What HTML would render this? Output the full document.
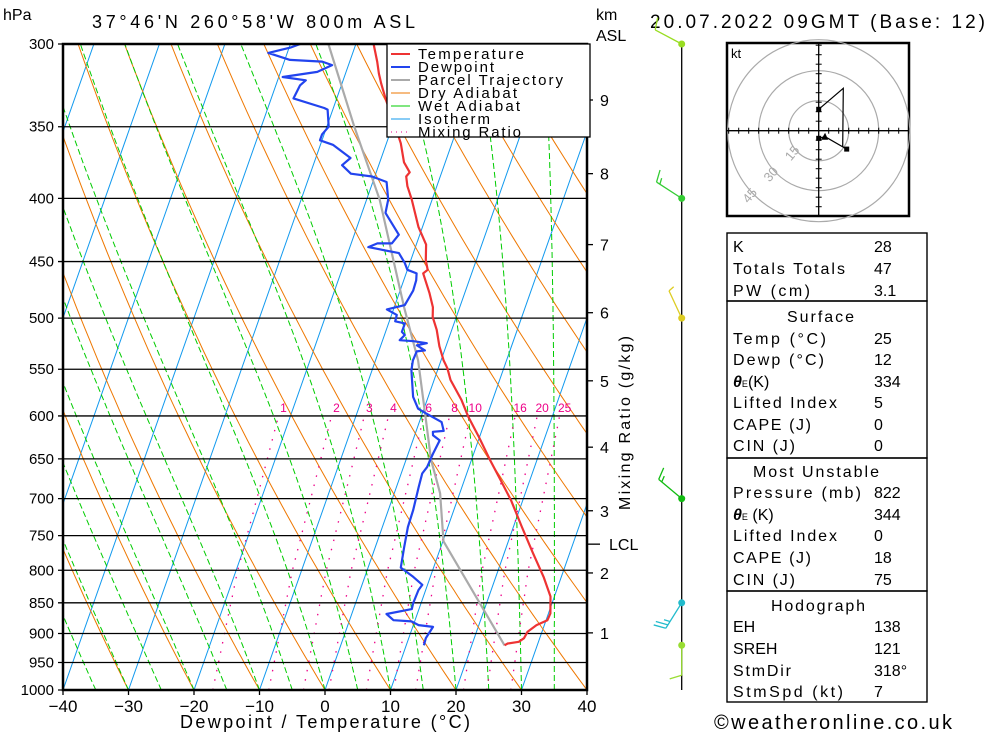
<!DOCTYPE html>
<html><head><meta charset="utf-8">
<style>
html,body{margin:0;padding:0;background:#fff;}
svg{display:block;font-family:"Liberation Sans",sans-serif;}
text{fill:#000;}
</style></head>
<body>
<svg id="chart" width="1000" height="733" viewBox="0 0 1000 733" xmlns="http://www.w3.org/2000/svg">
<defs><clipPath id="plotclip"><rect x="63" y="44" width="524" height="646"/></clipPath></defs>
<rect x="0" y="0" width="1000" height="733" fill="#fff"/>
<text x="3" y="20" font-size="16">hPa</text>
<text x="92" y="28" font-size="18" textLength="323" lengthAdjust="spacing">37°46'N 260°58'W 800m ASL</text>
<text x="596" y="20" font-size="16">km</text>
<text x="596" y="41" font-size="16">ASL</text>
<text x="650" y="28" font-size="19" textLength="335" lengthAdjust="spacing">20.07.2022 09GMT (Base: 12)</text>
<g id="bg" clip-path="url(#plotclip)"></g>
<g id="grid"></g>
<g id="series" clip-path="url(#plotclip)"></g>
<g id="axes"></g>
<g id="legend">
<rect x="387" y="44" width="203" height="93" fill="#fff" stroke="#000" stroke-width="1.3"/>
<line x1="391" y1="54" x2="410" y2="54" stroke="#ee3333" stroke-width="2"/>
<text x="418" y="59" font-size="15" textLength="106" lengthAdjust="spacing">Temperature</text>
<line x1="391" y1="67" x2="410" y2="67" stroke="#2244ee" stroke-width="2"/>
<text x="418" y="72" font-size="15" textLength="76" lengthAdjust="spacing">Dewpoint</text>
<line x1="391" y1="80" x2="410" y2="80" stroke="#aaaaaa" stroke-width="2"/>
<text x="418" y="85" font-size="15" textLength="145" lengthAdjust="spacing">Parcel Trajectory</text>
<line x1="391" y1="93" x2="410" y2="93" stroke="#ee7700" stroke-width="1"/>
<text x="418" y="98" font-size="15" textLength="99" lengthAdjust="spacing">Dry Adiabat</text>
<line x1="391" y1="106" x2="410" y2="106" stroke="#00cc00" stroke-width="1"/>
<text x="418" y="111" font-size="15" textLength="102" lengthAdjust="spacing">Wet Adiabat</text>
<line x1="391" y1="119" x2="410" y2="119" stroke="#1199ee" stroke-width="1"/>
<text x="418" y="124" font-size="15" textLength="72" lengthAdjust="spacing">Isotherm</text>
<line x1="391" y1="132" x2="410" y2="132" stroke="#ee0088" stroke-width="1" stroke-dasharray="1,4"/>
<text x="418" y="137" font-size="15" textLength="103" lengthAdjust="spacing">Mixing Ratio</text>
</g>
<text x="0" y="0" font-size="16" transform="translate(630,423) rotate(-90)" text-anchor="middle" textLength="174" lengthAdjust="spacing">Mixing Ratio (g/kg)</text>
<text x="325" y="728" font-size="18" text-anchor="middle" textLength="290" lengthAdjust="spacing">Dewpoint / Temperature (°C)</text>
<g id="winds">
<line x1="681.7" y1="44" x2="681.7" y2="690" stroke="#000" stroke-width="1.3"/>
</g>
<g id="hodo">
<rect x="727" y="43" width="182" height="173" fill="#fff" stroke="#000" stroke-width="2.5"/>
<text x="731" y="58" font-size="13">kt</text>
</g>
<g id="table" font-size="16">
<rect x="727" y="233" width="200" height="68" fill="none" stroke="#000" stroke-width="1.4"/>
<rect x="727" y="301" width="200" height="157" fill="none" stroke="#000" stroke-width="1.4"/>
<rect x="727" y="458" width="200" height="133" fill="none" stroke="#000" stroke-width="1.4"/>
<rect x="727" y="591" width="200" height="111" fill="none" stroke="#000" stroke-width="1.4"/>
<text x="733" y="252">K</text><text x="874" y="252">28</text>
<text x="733" y="274" textLength="112" lengthAdjust="spacing">Totals Totals</text><text x="874" y="274">47</text>
<text x="733" y="296" textLength="77" lengthAdjust="spacing">PW (cm)</text><text x="874" y="296">3.1</text>
<text x="787" y="322" textLength="67" lengthAdjust="spacing">Surface</text>
<text x="733" y="344" textLength="93" lengthAdjust="spacing">Temp (°C)</text><text x="874" y="344">25</text>
<text x="733" y="365" textLength="91" lengthAdjust="spacing">Dewp (°C)</text><text x="874" y="365">12</text>
<text x="733" y="387"><tspan font-style="italic" font-weight="bold">θ</tspan><tspan font-size="9">E</tspan>(K)</text><text x="874" y="387">334</text>
<text x="733" y="408" textLength="104" lengthAdjust="spacing">Lifted Index</text><text x="874" y="408">5</text>
<text x="733" y="430" textLength="78" lengthAdjust="spacing">CAPE (J)</text><text x="874" y="430">0</text>
<text x="733" y="451" textLength="62" lengthAdjust="spacing">CIN (J)</text><text x="874" y="451">0</text>
<text x="753" y="477" textLength="126" lengthAdjust="spacing">Most Unstable</text>
<text x="733" y="498" textLength="128" lengthAdjust="spacing">Pressure (mb)</text><text x="874" y="498">822</text>
<text x="733" y="520"><tspan font-style="italic" font-weight="bold">θ</tspan><tspan font-size="9">E</tspan> (K)</text><text x="874" y="520">344</text>
<text x="733" y="541" textLength="104" lengthAdjust="spacing">Lifted Index</text><text x="874" y="541">0</text>
<text x="733" y="563" textLength="78" lengthAdjust="spacing">CAPE (J)</text><text x="874" y="563">18</text>
<text x="733" y="585" textLength="62" lengthAdjust="spacing">CIN (J)</text><text x="874" y="585">75</text>
<text x="771" y="611" textLength="94" lengthAdjust="spacing">Hodograph</text>
<text x="733" y="632">EH</text><text x="874" y="632">138</text>
<text x="733" y="654">SREH</text><text x="874" y="654">121</text>
<text x="733" y="676" textLength="58" lengthAdjust="spacing">StmDir</text><text x="874" y="676">318°</text>
<text x="733" y="697" textLength="110" lengthAdjust="spacing">StmSpd (kt)</text><text x="874" y="697">7</text>
</g>
<text x="714" y="729" font-size="20" textLength="238" lengthAdjust="spacing">©weatheronline.co.uk</text>
</svg>
<script>
// ---- data ----
const tempP = [920,917,914,908,897,886,878,867,840,810,775,738,702,676,651,624,601,582,561,549,541,527,511,499,490,477,460,457,449,436,422,401,391,384,381,374,361,347,333,323,317,310,300];
const tempT = [25.0,25.4,27.0,27.6,27.8,28.8,30.2,30.3,29.4,27.3,24.4,21.3,18.2,15.5,12.8,9.9,7.2,5.2,2.5,1.4,0.4,-1.0,-2.3,-3.6,-4.1,-5.4,-7.4,-6.9,-7.7,-8.5,-10.6,-13.1,-14.5,-15.2,-14.9,-16.3,-17.8,-20.0,-22.4,-24.0,-24.9,-25.8,-27.3];
const dewP = [920,908,889,886,880,878,868,860,851,830,822,810,796,766,738,715,685,668,660,643,628,622,618,617,607,597,592,579,551,541,532,531,526,524,522,521,516,513,505,503,497,492,488,475,466,460,457,451,443,438,435,435,428,411,401,388,384,382,376,371,362,359,355,350,339,338,332,324,321,319,316,312,310,309,305,302,300];
const dewT = [12.7,12.6,13.1,10.8,9.5,6.7,5.3,8.9,8.8,8.9,9.2,7.4,5.0,4.4,3.9,3.8,3.4,3.2,3.6,3.8,4.1,2.8,2.6,4.2,3.4,0.5,-0.9,-2.3,-4.0,-4.3,-4.2,-3.0,-4.5,-3.1,-5.2,-7.4,-6.9,-7.5,-7.5,-9.1,-9.2,-11.0,-8.5,-8.0,-8.1,-8.4,-10.0,-10.8,-12.2,-17.2,-16.0,-13.8,-13.2,-16.4,-16.7,-17.9,-20.4,-23.8,-25.6,-24.7,-28.1,-30.3,-30.3,-29.7,-30.8,-31.4,-36.6,-36.3,-35.7,-39.4,-34.4,-32.5,-34.2,-39.2,-42.9,-39.8,-38.5];
const parcelP = [920,758,693,651,600,541,490,401,350,300];
const parcelT = [25.0,10.1,7.0,3.8,0.6,-3.5,-8.5,-18.0,-25.8,-34.2];
const pressureTicks = [300,350,400,450,500,550,600,650,700,750,800,850,900,950,1000];
const tempTicks = [-40,-30,-20,-10,0,10,20,30,40];
const mixRatios = [1,2,3,4,6,8,10,16,20,25];
const mixLabels = ["1","2","3","4","6","8","10","16","20","25"];
const wetThetas = [-40,-35,-30,-25,-20,-15,-10,-5,0,5,10,15,20,25,30,35];
const kmLabels = ["1","2","3","4","5","6","7","8","9","LCL"];
const kmP = [899,804,716,636,562,495,436,382,333,762];
const windP = [920,850,700,500,400,300];
const windDir = [180,212,310,335,303,298];
const windSpd = [10,25,15,5,15,10];
const windColor = ["#99dd33","#22bbcc","#11bb11","#ddcc22","#33cc33","#99dd22"];
const hodoU = [0,3.2,14,12,12.3,0];
const hodoV = [-3.8,-3,-9.2,-8,21.2,10.7];
const hodoRings = [15,30,45];

// ---- scales ----
const NS='http://www.w3.org/2000/svg';
function yP(p){return 690 - Math.log(1000/p)*536.55;}
function xT(T,p){return 325 + 6.55*T + 0.352*(690 - yP(p));}
function mk(parent, tag, attrs){const e=document.createElementNS(NS,tag);for(const k in attrs)e.setAttribute(k,attrs[k]);parent.appendChild(e);return e;}
function poly(pts){return pts.map(q=>q[0].toFixed(1)+','+q[1].toFixed(1)).join(' ');}
const bg=document.getElementById('bg'), grid=document.getElementById('grid'), series=document.getElementById('series'), axes=document.getElementById('axes');

// isotherms
for(let T=-120;T<=40;T+=10){
  const el=mk(bg,'line',{x1:xT(T,1000),y1:yP(1000),x2:xT(T,250),y2:yP(250),stroke:'#1199ee','stroke-width':1});
  
  
}
// dry adiabats
for(let th=-40;th<=160;th+=10){
  const pts=[];
  for(let p=1000;p>=290;p-=10){const T=(th+273.15)*Math.pow(p/1000,0.2857)-273.15;pts.push([xT(T,p),yP(p)]);}
  const el=mk(bg,'polyline',{points:poly(pts),fill:'none',stroke:'#ee7700','stroke-width':1});
  
  
}
// wet adiabats
function esat(Tk){return 6.112*Math.exp(17.67*(Tk-273.15)/(Tk-29.65));}
wetThetas.forEach(tw=>{
  let T=tw+273.15, p=1000; const pts=[[xT(tw,1000),yP(1000)]];
  while(p>290){
    const es=esat(T), rs=0.622*es/(p-es);
    const d=(287*T+2.5e6*rs)/(p*(1004+2.5e6*2.5e6*rs*0.622/(287*T*T)));
    T+= d*(-5); p-=5;
    pts.push([xT(T-273.15,p),yP(p)]);
  }
  const el=mk(bg,'polyline',{points:poly(pts),fill:'none',stroke:'#00cc00','stroke-width':1,'stroke-dasharray':'6,3'});
  
  
});
// mixing ratio lines
mixRatios.forEach((w,i)=>{
  const pts=[];
  for(let p=1000;p>=600;p-=10){const e=w*p/(622+w);const L=Math.log(e/6.112);const Td=243.5*L/(17.67-L);pts.push([xT(Td,p)+(p<800?8*(800-p)/200:0),yP(p)]);}
  const el=mk(bg,'polyline',{points:poly(pts),fill:'none',stroke:'#ee0088','stroke-width':1.3,'stroke-dasharray':'1.5,8'});
  
  
  const top=pts[pts.length-1];
  const t=mk(bg,'text',{x:top[0]+5,y:412,'font-size':12,fill:'#ee0088','text-anchor':'middle'});
  
  
  t.style.fill='#ee0088';
  t.textContent=mixLabels[i];
});
// pressure lines + labels
pressureTicks.forEach(p=>{
  const y=yP(p);
  const el=mk(grid,'line',{x1:58,y1:y,x2:587,y2:y,stroke:'#000','stroke-width':1.3});
  
  
  const t=mk(grid,'text',{x:54,y:y+5,'font-size':15,'text-anchor':'end'});
  
  
  t.textContent=p;
});
// x ticks
tempTicks.forEach(T=>{
  const x=xT(T,1000);
  const el=mk(axes,'line',{x1:x,y1:690,x2:x,y2:695,stroke:'#000','stroke-width':1.3});
  
  
  const t=mk(axes,'text',{x:x,y:712,'font-size':17,'text-anchor':'middle'});
  
  
  t.textContent=(T<0?'\u2212'+(-T):''+T);
});
// km ticks
kmLabels.forEach((lab,i)=>{
  const y=yP(kmP[i]);
  const el=mk(axes,'line',{x1:587,y1:y,x2:(lab==='LCL'?600:593),y2:y,stroke:'#000','stroke-width':1.3});
  
  
  const t=mk(axes,'text',{x:(lab==='LCL'?609:600),y:y+6,'font-size':16});
  
  
  t.textContent=lab;
});
// plot border
const border=mk(axes,'rect',{x:63,y:44,width:524,height:646,fill:'none',stroke:'#000','stroke-width':2.5});



// profiles
function profile(P,T,color,w,name){
  const pts=P.map((p,i)=>[xT(T[i],p),yP(p)]);
  const el=mk(series,'polyline',{points:poly(pts),fill:'none',stroke:color,'stroke-width':w,'stroke-linejoin':'round'});
  
  
}
profile(parcelP,parcelT,'#aaaaaa',2.2,'parcel-trajectory-line');
profile(tempP,tempT,'#ee3333',2.2,'temperature-line');
profile(dewP,dewT,'#2244ee',2.2,'dewpoint-line');
// bring legend above profiles
const svg=document.getElementById('chart');
svg.insertBefore(document.getElementById('series'),document.getElementById('axes'));
svg.insertBefore(document.getElementById('legend'),document.getElementById('winds'));

// wind barbs
const winds=document.getElementById('winds');
windP.forEach((p,i)=>{
  const x0=681.7,y0=yP(p), a=windDir[i]*Math.PI/180;
  const dx=Math.sin(a), dy=-Math.cos(a), L=30;
  const x1=x0+dx*L,y1=y0+dy*L;
  const c=windColor[i];
  const s=mk(winds,'line',{x1:x0,y1:y0,x2:x1,y2:y1,stroke:c,'stroke-width':1.3});
  
  
  const dot=mk(winds,'circle',{cx:x0,cy:y0,r:3.5,fill:c});
  
  
  let spd=windSpd[i], k=0;
  const px=-dy, py=dx;
  while(spd>=5){
    const full=spd>=10, len=full?12:6;
    const bx=x1-dx*k*4, by=y1-dy*k*4;
    const b=mk(winds,'line',{x1:bx,y1:by,x2:bx+px*len+dx*len*0.3,y2:by+py*len+dy*len*0.3,stroke:c,'stroke-width':1.3});
    
    
    spd-=full?10:5;k++;
  }
});

// hodograph
const hodo=document.getElementById('hodo');
const hcx=818.7,hcy=130.7,hs=2;
hodoRings.forEach(r=>{
  const c=mk(hodo,'circle',{cx:hcx,cy:hcy,r:r*hs+(r===45?1:0),fill:'none',stroke:'#aaaaaa','stroke-width':1.2});
  
  
  const d=r*hs*0.707;
  const t=mk(hodo,'text',{x:0,y:0,'font-size':13,'text-anchor':'middle',transform:`translate(${hcx-d-2},${hcy+d+4}) rotate(-50)`});
  
  
  t.style.fill='#aaaaaa';
  t.textContent=r;
});
const ax1=mk(hodo,'line',{x1:727,y1:hcy,x2:909,y2:hcy,stroke:'#000','stroke-width':1.3});


const ax2=mk(hodo,'line',{x1:hcx,y1:43,x2:hcx,y2:216,stroke:'#000','stroke-width':1.3});


for(let k=-45;k<=45;k+=5){ if(k===0) continue;
  const t1=mk(hodo,'line',{x1:hcx+k*hs,y1:hcy-3,x2:hcx+k*hs,y2:hcy+3,stroke:'#000','stroke-width':1});
  
  
  const t2=mk(hodo,'line',{x1:hcx-3,y1:hcy+k*hs*0.95,x2:hcx+3,y2:hcy+k*hs*0.95,stroke:'#000','stroke-width':1});
  
  
}
const hpts=hodoU.map((u,i)=>[hcx+u*hs,hcy-hodoV[i]*hs]);
const hl=mk(hodo,'polyline',{points:poly(hpts),fill:'none',stroke:'#000','stroke-width':1.2});


[0,2,5].forEach(i=>{
  const m=mk(hodo,'rect',{x:hpts[i][0]-2.5,y:hpts[i][1]-2.5,width:5,height:5,fill:'#000'});
  
  
});
const tri=mk(hodo,'polygon',{points:poly([[hpts[1][0]-4,hpts[1][1]+3],[hpts[1][0]+3,hpts[1][1]+3],[hpts[1][0],hpts[1][1]-4]]),fill:'#000'});


</script>
</body></html>
